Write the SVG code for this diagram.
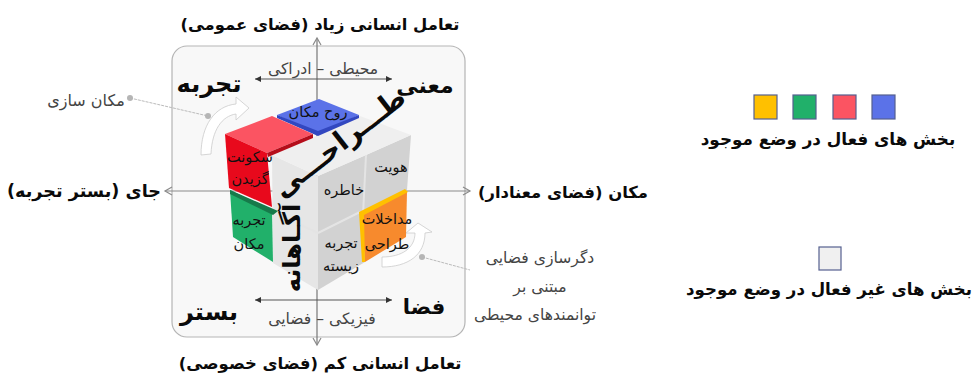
<svg xmlns="http://www.w3.org/2000/svg" width="973" height="379" viewBox="0 0 973 379">
<style>
text{font-family:"DejaVu Sans",sans-serif;direction:rtl;text-anchor:middle;fill:#0a0a0a}
.b{font-weight:bold}
.h{font-size:16.4px;font-weight:bold}
.q{font-size:24px;font-weight:bold}
.g{font-size:15.6px;fill:#444}
.c{font-size:14.5px;fill:#111}
.ax{stroke:#8a8a8a;stroke-width:1.2;fill:none}
.sub{stroke:#555;stroke-width:1;fill:none}
.ld{stroke:#bbb;stroke-width:1;stroke-dasharray:3 1;fill:none}
.dot{fill:#b5b5b5}
.sw{stroke:#55608f;stroke-width:1.2}
.w{fill:#fff;stroke:#ccc;stroke-width:.8}
</style>
<defs>
<marker id="o" markerWidth="10" markerHeight="10" refX="8" refY="5" orient="auto-start-reverse" markerUnits="userSpaceOnUse"><path d="M1 1L8 5L1 9" fill="none" stroke="#8a8a8a" stroke-width="1.2"/></marker>
<marker id="f" markerWidth="8" markerHeight="8" refX="7" refY="4" orient="auto-start-reverse" markerUnits="userSpaceOnUse"><path d="M1 1L7 4L1 7Z" fill="#333"/></marker>
</defs>
<rect id="panel" x="172" y="46" width="293" height="291" rx="15" fill="#f8f8f8" stroke="#b5b5b5" stroke-width="1.2"/>
<g id="connectors">
<path class="ax" d="M317 38V345" marker-start="url(#o)" marker-end="url(#o)" style="stroke:#777"/>
<path class="ax" d="M165 191H470" marker-start="url(#o)" marker-end="url(#o)"/>
<path class="sub" d="M255 79H392" marker-start="url(#f)" marker-end="url(#f)"/>
<path class="sub" d="M255 300H392" marker-start="url(#f)" marker-end="url(#f)"/>
<path class="ld" d="M130 98L208 116"/>
<path class="ld" d="M422 257L470 270"/>
<circle class="dot" cx="130" cy="98" r="3"/><circle class="dot" cx="208" cy="116" r="3"/>
</g>
<g id="arrow-1"><path class="w" d="M201 155C201 125 215 106 236 104V97L249 108L236 120V114C222 116 212 130 211 154Z"/></g>
<g id="cube">
<path d="M272 155L318 176L318 290L273 263Z" fill="#e6e6e6"/>
<path d="M318 176L366 155L411 135L407 190L360 212L365 262L318 290Z" fill="#d2d2d2"/>
<path d="M319 135L360 116L411 135L366 155L318 176L272 155Z" fill="#efefef"/>
<path d="M366 155L363 215M318 233L360 212M273 212L318 233" stroke="#e4e4e4" stroke-width="2" fill="none"/>
</g>
<g id="blue"><path d="M277 115L319 99L359 115L318 134Z" fill="#5b72e8"/><path d="M277 115L318 131L359 115L359 118L318 136L277 118Z" fill="#3247c0"/><text class="c" x="318" y="117">روح مکان</text></g>
<g id="red"><path d="M225 134L272 116L313 134L267 153Z" fill="#fb5462"/><path d="M225 134L267 153L272 207L229 188Z" fill="#e8091c"/><path d="M267 153L313 134L313 138L268 157Z" fill="#b50d1a"/><text class="c" x="250" y="162">سکونت</text><text class="c" x="250" y="184">گزیدن</text></g>
<g id="green"><path d="M230 190L272 210L273 262L233 237Z" fill="#21b06a"/><path d="M230 190L278 211L273 215L230 194Z" fill="#167a4a"/><text class="c" x="249" y="225">تجربه</text><text class="c" x="249" y="249">مکان</text></g>
<g id="orange"><path d="M361 213L407 191L406 237L365 262Z" fill="#f78a2d"/><path d="M359 212L405 189L408 192L364 215L365 262L362 262Z" fill="#ffc000"/></g>
<g id="arrow-2"><path class="w" d="M418 223L432 232L425 233C425 255 408 267 382 267L382 257C402 257 415 248 415 233L406 233Z"/><circle class="dot" cx="422" cy="257" r="3"/></g>
<text class="c" x="387" y="224">مداخلات</text><text class="c" x="387" y="249">طراحی</text>
<text class="c" x="391" y="172">هویت</text><text class="c" x="344" y="195">خاطره</text><text class="c" x="341" y="248">تجربه</text><text class="c" x="341" y="271">زیسته</text>
<text class="b" font-size="28" transform="translate(345,150) rotate(-38)">طـــراحـــی</text>
<text class="b" font-size="24" transform="translate(300,248) rotate(-90)">آگـاهانه</text>
<text class="h" x="320" y="30">تعامل انسانی زیاد (فضای عمومی)</text>
<text class="h" x="320" y="369">تعامل انسانی کم (فضای خصوصی)</text>
<text class="h" x="84" y="197" style="font-size:17.6px">جای (بستر تجربه)</text>
<text class="h" x="563" y="198">مکان (فضای معنادار)</text>
<text class="q" x="209" y="92">تجربه</text>
<text class="q" x="425" y="93" style="font-size:22px">معنی</text>
<text class="q" x="209" y="320">بستر</text>
<text class="q" x="424" y="314" style="font-size:21px">فضا</text>
<text class="g" x="323" y="74">محیطی – ادراکی</text>
<text class="g" x="322" y="324">فیزیکی – فضایی</text>
<text class="g" x="86" y="106" style="font-size:16px">مکان سازی</text>
<text class="g" x="540" y="263">دگرسازی فضایی</text>
<text class="g" x="540" y="292">مبتنی بر</text>
<text class="g" x="535" y="320">توانمندهای محیطی</text>
<g id="legend-active">
<rect class="sw" x="754" y="95" width="23" height="24" fill="#ffc000"/>
<rect class="sw" x="793" y="95" width="23" height="24" fill="#21b06a"/>
<rect class="sw" x="833" y="95" width="23" height="24" fill="#fb5462"/>
<rect class="sw" x="872" y="95" width="23" height="24" fill="#5b72e8"/>
<text class="h" x="828" y="145" style="font-size:16.8px">بخش های فعال در وضع موجود</text>
</g>
<g id="legend-inactive">
<rect class="sw" x="819" y="247" width="22" height="23" fill="#f0f0f0"/>
<text class="h" x="829" y="295" style="font-size:16.6px">بخش های غیر فعال در وضع موجود</text>
</g>
</svg>
